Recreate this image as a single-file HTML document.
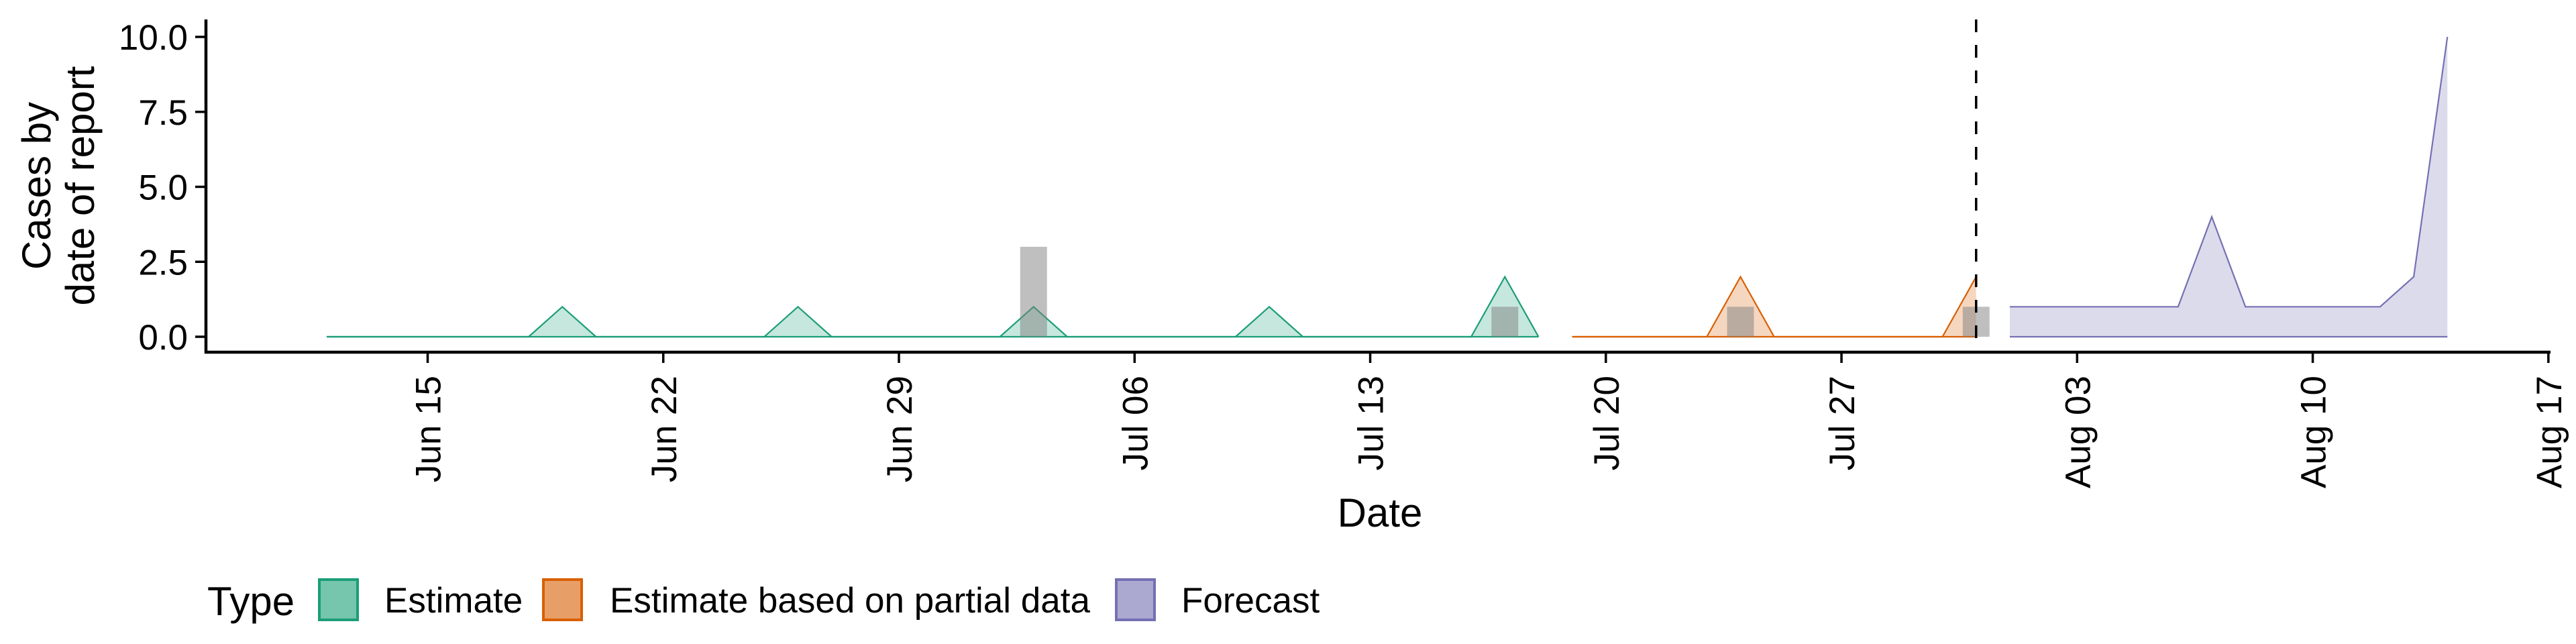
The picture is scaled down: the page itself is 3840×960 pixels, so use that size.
<!DOCTYPE html>
<html><head><meta charset="utf-8"><style>
html,body{margin:0;padding:0;background:#fff;}
svg{display:block;font-family:"Liberation Sans",sans-serif;}
</style></head><body>
<svg id="chart" width="3840" height="960" viewBox="0 0 3840 960" xmlns="http://www.w3.org/2000/svg">
<g id="plot"></g>
<g id="axes"></g>
<g id="legend"></g>
</svg>
<script>
// Data (day offsets relative to Jun 15)
const estimateDays = [-3,-2,-1,0,1,2,3,4,5,6,7,8,9,10,11,12,13,14,15,16,17,18,19,20,21,22,23,24,25,26,27,28,29,30,31,32,33];
const estimateUpper = [0,0,0,0,0,0,0,1,0,0,0,0,0,0,1,0,0,0,0,0,0,1,0,0,0,0,0,0,1,0,0,0,0,0,0,2,0];
const partialDays = [34,35,36,37,38,39,40,41,42,43,44,45,46];
const partialUpper = [0,0,0,0,0,2,0,0,0,0,0,0,2];
const forecastDays = [47,48,49,50,51,52,53,54,55,56,57,58,59,60];
const forecastUpper = [1,1,1,1,1,1,4,1,1,1,1,1,2,10];
const reportDays = [18,32,39,46];
const reportCases = [3,1,1,1];
const yTicks = [0,2.5,5,7.5,10];
const yTickLabels = ["0.0","2.5","5.0","7.5","10.0"];
const xTickDays = [0,7,14,21,28,35,42,49,56,63];
const xTickLabels = ["Jun 15","Jun 22","Jun 29","Jul 06","Jul 13","Jul 20","Jul 27","Aug 03","Aug 10","Aug 17"];
const forecastStartDay = 46;

const NS = "http://www.w3.org/2000/svg";
const X0 = 637.5, DAY = 50.18, Y0 = 502, UNIT = 44.7;
const xs = d => X0 + d * DAY;
const ys = v => Y0 - v * UNIT;
function mk(tag, attrs, parent){const e=document.createElementNS(NS,tag);for(const k in attrs)e.setAttribute(k,attrs[k]);parent.appendChild(e);return e;}
const plot=document.getElementById('plot'), axes=document.getElementById('axes'), legend=document.getElementById('legend');

function ribbon(days, upper, color, name){
  let top = days.map((d,i)=>xs(d)+","+ys(upper[i])).join(" ");
  let bottom = days.slice().reverse().map(d=>xs(d)+","+ys(0)).join(" ");
  const p = mk('polygon',{points:top+" "+bottom,fill:color,'fill-opacity':0.25,stroke:'none'},plot);
  
  
  const l1 = mk('polyline',{points:top,fill:'none',stroke:color,'stroke-width':2.2},plot);
  
  
  const l2 = mk('polyline',{points:days.map(d=>xs(d)+","+ys(0)).join(" "),fill:'none',stroke:color,'stroke-width':2.2},plot);
  
  
}
ribbon(estimateDays, estimateUpper, '#1b9e77', 'estimate');
ribbon(partialDays, partialUpper, '#d95f02', 'partial-estimate');
ribbon(forecastDays, forecastUpper, '#7570b3', 'forecast');

reportDays.forEach((d,i)=>{
  const r = mk('rect',{x:xs(d)-20,y:ys(reportCases[i]),width:40,height:ys(0)-ys(reportCases[i]),fill:'#7f7f7f','fill-opacity':0.5},plot);
  
  
});

const dl = mk('line',{x1:xs(forecastStartDay),x2:xs(forecastStartDay),y1:29,y2:525,stroke:'#000','stroke-width':3.5,'stroke-dasharray':'19 19'},plot);



// axes
const ya = mk('line',{x1:307,x2:307,y1:29,y2:527,stroke:'#000','stroke-width':4.5},axes);


const xa = mk('line',{x1:305,x2:3802,y1:525,y2:525,stroke:'#000','stroke-width':4.5},axes);


yTicks.forEach((v,i)=>{
  mk('line',{x1:291,x2:307,y1:ys(v),y2:ys(v),stroke:'#000','stroke-width':3.5},axes);
  const t = mk('text',{x:280,y:ys(v)+19,'text-anchor':'end','font-size':53,fill:'#000'},axes);
  t.textContent = yTickLabels[i];
  
  
});
xTickDays.forEach((d,i)=>{
  const tk = mk('line',{x1:xs(d),x2:xs(d),y1:525,y2:541,stroke:'#000','stroke-width':3.5},axes);
  
  
  const t = mk('text',{x:0,y:0,'text-anchor':'end','font-size':53,fill:'#000',transform:`translate(${xs(d)+19},560) rotate(-90)`},axes);
  t.textContent = xTickLabels[i];
  
  
});
const xt = mk('text',{x:2057,y:785,'text-anchor':'middle','font-size':60,fill:'#000'},axes);
xt.textContent='Date';


const yt = mk('text',{transform:'translate(0,277) rotate(-90)','text-anchor':'middle','font-size':60,fill:'#000'},axes);


const s1 = mk('tspan',{x:0,y:75},yt); s1.textContent='Cases by';
const s2 = mk('tspan',{x:0,y:140},yt); s2.textContent='date of report';

// legend
const lt = mk('text',{x:309,y:917,'font-size':60,fill:'#000'},legend);
lt.textContent='Type';


const legItems = [['Estimate','#1b9e77',474,573],['Estimate based on partial data','#d95f02',808,909],['Forecast','#7570b3',1662,1761]];
legItems.forEach(it=>{
  const r = mk('rect',{x:it[2]+2,y:864,width:57,height:60,fill:it[1],'fill-opacity':0.6,stroke:it[1],'stroke-width':4},legend);
  
  
  const t = mk('text',{x:it[3],y:913,'font-size':53,fill:'#000'},legend);
  t.textContent = it[0];
  
  
});
</script>
</body></html>
